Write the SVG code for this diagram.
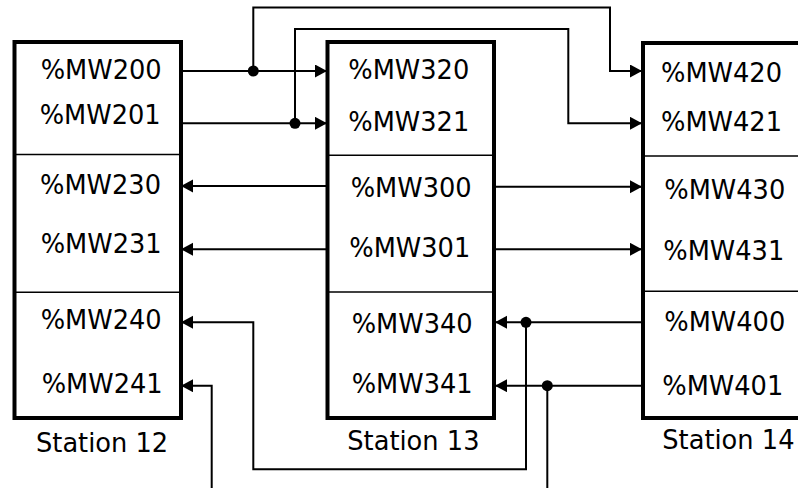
<svg xmlns="http://www.w3.org/2000/svg" width="798" height="488" viewBox="0 0 798 488">
<style>
.box{fill:#fff;stroke:#000;stroke-width:4}
.div{stroke:#000;stroke-width:1.5}
.t{font-family:"DejaVu Sans",Verdana,sans-serif;font-size:25.7px;fill:#000}
.c{fill:none;stroke:#000;stroke-width:2}
.dot{fill:#000}
</style>
<defs>
<marker id="arr" markerUnits="userSpaceOnUse" markerWidth="13" markerHeight="14" refX="12" refY="6.5" orient="auto">
<path d="M0,0 L12,6.5 L0,13 z" fill="#000"/>
</marker>
</defs>
<rect width="798" height="488" fill="#fff"/>
<g id="station12">
<rect class="box" x="14.5" y="42" width="166.5" height="376"/>
<line class="div" x1="14.5" y1="154.5" x2="181" y2="154.5"/>
<line class="div" x1="14.5" y1="292.3" x2="181" y2="292.3"/>
<text class="t" x="40.7" y="79">%MW200</text>
<text class="t" x="39.7" y="124.3">%MW201</text>
<text class="t" x="40" y="194.3">%MW230</text>
<text class="t" x="40.7" y="253.3">%MW231</text>
<text class="t" x="40.7" y="329.3">%MW240</text>
<text class="t" x="41.7" y="393.3">%MW241</text>
<text class="t" x="36" y="451.5">Station 12</text>
</g>
<g id="station13">
<rect class="box" x="327.5" y="42" width="166.5" height="376"/>
<line class="div" x1="327.5" y1="155.3" x2="494" y2="155.3"/>
<line class="div" x1="327.5" y1="292" x2="494" y2="292"/>
<text class="t" x="348.3" y="79">%MW320</text>
<text class="t" x="348.3" y="131">%MW321</text>
<text class="t" x="350.7" y="196.7">%MW300</text>
<text class="t" x="349.3" y="257.3">%MW301</text>
<text class="t" x="351.7" y="333.3">%MW340</text>
<text class="t" x="351.7" y="393.3">%MW341</text>
<text class="t" x="347.3" y="449.5">Station 13</text>
</g>
<g id="station14">
<rect class="box" x="643" y="43" width="200" height="375"/>
<line class="div" x1="643" y1="156" x2="843" y2="156"/>
<line class="div" x1="643" y1="291.3" x2="843" y2="291.3"/>
<text class="t" x="661" y="81.7">%MW420</text>
<text class="t" x="661" y="130.7">%MW421</text>
<text class="t" x="664.3" y="199">%MW430</text>
<text class="t" x="663.3" y="260">%MW431</text>
<text class="t" x="664.3" y="331">%MW400</text>
<text class="t" x="662.3" y="395.3">%MW401</text>
<text class="t" x="662.3" y="449">Station 14</text>
</g>
<g id="connectors">
<path class="c" d="M182,71 H327" marker-end="url(#arr)"/>
<path class="c" d="M253.3,71 V7.5 H610 V71 H642" marker-end="url(#arr)"/>
<circle class="dot" cx="253.3" cy="71" r="5.5"/>
<path class="c" d="M182,123.3 H327" marker-end="url(#arr)"/>
<path class="c" d="M295,123.3 V29 H568.3 V123.3 H642" marker-end="url(#arr)"/>
<circle class="dot" cx="295" cy="123.3" r="5.5"/>
<path class="c" d="M327,186 H181" marker-end="url(#arr)"/>
<path class="c" d="M327,249.3 H181" marker-end="url(#arr)"/>
<path class="c" d="M494,186.7 H642" marker-end="url(#arr)"/>
<path class="c" d="M494,249.3 H642" marker-end="url(#arr)"/>
<path class="c" d="M642,322.3 H495" marker-end="url(#arr)"/>
<path class="c" d="M526,322.3 V469.3 H253.3 V322.3 H181" marker-end="url(#arr)"/>
<circle class="dot" cx="526" cy="322.3" r="5.5"/>
<path class="c" d="M642,385.7 H495" marker-end="url(#arr)"/>
<path class="c" d="M547.3,385.7 V488"/>
<circle class="dot" cx="547.3" cy="385.7" r="5.5"/>
<path class="c" d="M211.7,488 V385.7 H181" marker-end="url(#arr)"/>
</g>
</svg>
